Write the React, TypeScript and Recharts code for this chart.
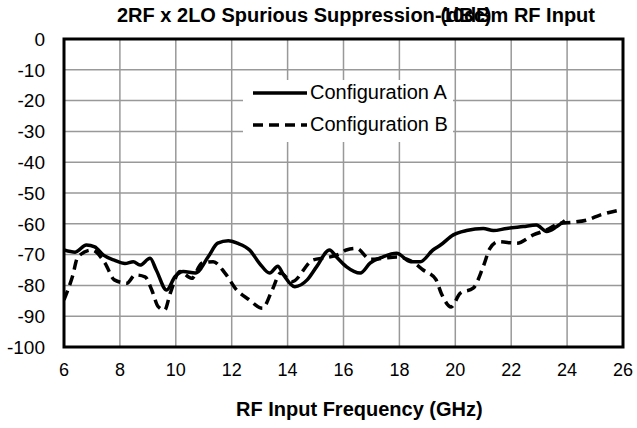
import { CartesianGrid, Line, LineChart, XAxis, YAxis } from "recharts";

// frequency (GHz) / suppression (dBc)
const freqA = [6.0, 6.4, 6.8, 7.1, 7.4, 7.8, 8.18, 8.48, 8.72, 9.08, 9.3, 9.67, 9.97, 10.27, 10.7, 11.16, 11.5, 11.88, 12.2, 12.65, 13.0, 13.36, 13.65, 13.85, 14.26, 14.7, 15.04, 15.5, 15.75, 16.1, 16.6, 16.95, 17.4, 17.9, 18.4, 18.75, 19.2, 19.47, 19.93, 20.4, 21.0, 21.36, 21.84, 22.43, 22.9, 23.27, 23.63, 23.92];
const configA = [-68.5, -69.2, -66.9, -67.5, -70.1, -71.8, -72.9, -72.3, -73.4, -71.2, -75, -81.5, -77.2, -75.5, -76, -70.7, -66.3, -65.5, -66.3, -68.6, -72.9, -76, -73.8, -76.5, -80.4, -78.2, -73.9, -68.5, -70.8, -73.9, -76, -72.8, -70.8, -69.6, -72.3, -72.3, -68.5, -66.9, -63.6, -62.2, -61.5, -62.2, -61.5, -60.9, -60.4, -62.5, -60.9, -59];

const freqB = [6.0, 6.3, 6.5, 7.0, 7.47, 7.8, 8.25, 8.55, 8.9, 9.14, 9.37, 9.6, 9.8, 10.15, 10.57, 10.93, 11.34, 11.76, 12.18, 12.6, 13.1, 13.45, 13.75, 14.15, 14.9, 15.4, 15.9, 16.1, 16.47, 16.95, 17.4, 17.9, 18.4, 18.85, 19.3, 19.5, 19.85, 20.17, 20.64, 21.0, 21.24, 21.54, 22.2, 22.79, 23.27, 23.75, 24.2, 24.7, 25.2, 25.9];
const configB = [-84.7, -77.2, -70.7, -68.5, -72.8, -78.2, -79.3, -76.6, -77.2, -81.5, -86.9, -88, -82.6, -75.5, -77.7, -72.8, -72.3, -76, -81.5, -84.5, -87.4, -81.5, -76, -78.8, -71.8, -71, -69.6, -68.5, -68, -71.5, -71.2, -70.8, -72, -75, -78, -82.6, -87, -82.6, -80.9, -73.9, -68, -65.8, -66.3, -63.6, -62, -59.8, -59.5, -58.8, -57.1, -55.5];

const xTicks = [6, 8, 10, 12, 14, 16, 18, 20, 22, 24, 26];
const yTicks = [0, -10, -20, -30, -40, -50, -60, -70, -80, -90, -100];

const FONT = "'Liberation Sans', Arial, Helvetica, sans-serif";
const W = 637;
const H = 428;
const M = { top: 39, right: 14, left: 0, bottom: 41 };
const Y_AXIS_W = 64;
const X_AXIS_H = 40;

const dataA = freqA.map((f, i) => ({ f, v: configA[i] }));
const dataB = freqB.map((f, i) => ({ f, v: configB[i] }));

function LegendBox() {
  return (
    <div
      style={{
        position: "absolute",
        left: 243,
        top: 80,
        background: "#fff",
        width: 210,
        height: 62,
        fontFamily: FONT,
        fontSize: 20,
        color: "#000",
      }}
    >
      <svg width={60} height={62} style={{ position: "absolute", left: 8, top: 0 }}>
        <line x1={2} y1={13} x2={56} y2={13} stroke="#000" strokeWidth={3.5} />
        <line x1={2} y1={45} x2={56} y2={45} stroke="#000" strokeWidth={3.5} strokeDasharray="10 6" />
      </svg>
      <div style={{ position: "absolute", left: 67, top: 1, whiteSpace: "nowrap" }}>Configuration A</div>
      <div style={{ position: "absolute", left: 67, top: 33, whiteSpace: "nowrap" }}>Configuration B</div>
    </div>
  );
}

// black frame round the plot area
function Frame() {
  const x = M.left + Y_AXIS_W;
  const y = M.top;
  const w = W - M.right - x;
  const h = H - M.bottom - X_AXIS_H - y;
  return (
    <svg width={W} height={H} style={{ position: "absolute", left: 0, top: 0, pointerEvents: "none" }}>
      <rect x={x} y={y} width={w} height={h} fill="none" stroke="#000" strokeWidth={3} />
    </svg>
  );
}

export default function App() {
  return (
    <div style={{ position: "absolute", left: 0, top: 0, width: W, height: H, background: "#fff" }}>
      <div
        style={{
          position: "absolute",
          left: 117,
          top: 4,
          fontFamily: FONT,
          fontWeight: 700,
          fontSize: 20,
          whiteSpace: "nowrap",
        }}
      >
        2RF x 2LO Spurious Suppression (dBc)
      </div>
      <div
        style={{
          position: "absolute",
          left: 435,
          top: 4,
          fontFamily: FONT,
          fontWeight: 700,
          fontSize: 20,
          whiteSpace: "nowrap",
        }}
      >
        -10dBm RF Input
      </div>
      <LineChart width={W} height={H} margin={M} style={{ position: "absolute", left: 0, top: 0 }}>
        <CartesianGrid stroke="#999" strokeWidth={1.5} />
        <XAxis
          type="number"
          dataKey="f"
          domain={[6, 26]}
          ticks={xTicks}
          interval={0}
          allowDataOverflow
          height={X_AXIS_H}
          tickSize={0}
          tickMargin={16}
          axisLine={false}
          tick={{ fill: "#000", fontSize: 18, fontFamily: FONT }}
        />
        <YAxis
          type="number"
          domain={[-100, 0]}
          ticks={yTicks}
          interval={0}
          width={Y_AXIS_W}
          tickSize={0}
          tickMargin={19}
          axisLine={false}
          tick={{ fill: "#000", fontSize: 19, fontFamily: FONT }}
        />
        <Line
          data={dataA}
          dataKey="v"
          type="monotone"
          stroke="#000"
          strokeWidth={3.5}
          dot={false}
          isAnimationActive={false}
        />
        <Line
          data={dataB}
          dataKey="v"
          type="monotone"
          stroke="#000"
          strokeWidth={3.5}
          strokeDasharray="10 6"
          dot={false}
          isAnimationActive={false}
        />
      </LineChart>
      <Frame />
      <LegendBox />
      <div
        style={{
          position: "absolute",
          left: 236,
          top: 398,
          fontFamily: FONT,
          fontWeight: 700,
          fontSize: 20,
          whiteSpace: "nowrap",
        }}
      >
        RF Input Frequency (GHz)
      </div>
    </div>
  );
}
